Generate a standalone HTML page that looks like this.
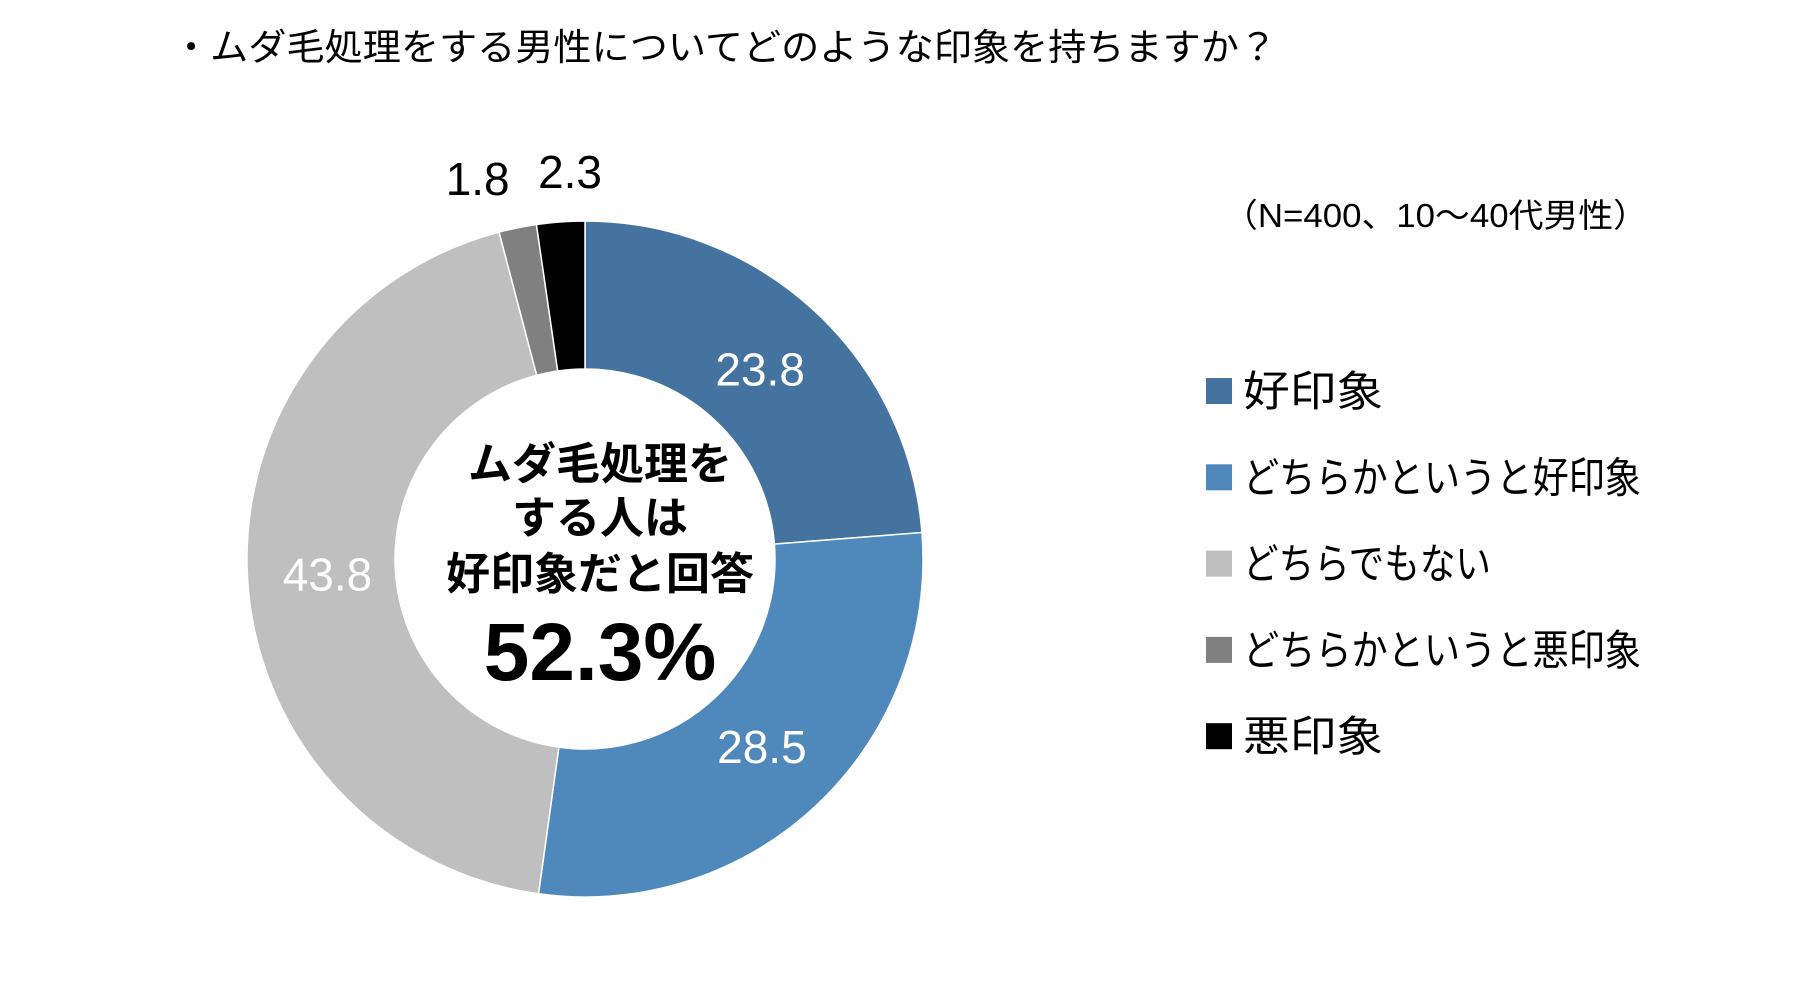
<!DOCTYPE html>
<html><head><meta charset="utf-8"><style>
body{margin:0;background:#fff;}
svg text{font-family:"Liberation Sans","Noto Sans CJK JP",sans-serif;}
</style></head><body>
<svg width="1805" height="1000" viewBox="0 0 1805 1000">
<text x="172" y="60" font-size="37" textLength="1105" lengthAdjust="spacingAndGlyphs" fill="#000">・ムダ毛処理をする男性についてどのような印象を持ちますか？</text>
<text x="1223" y="227" font-size="33" textLength="425" lengthAdjust="spacingAndGlyphs" fill="#000">（N=400、10～40代男性）</text>
<g id="slices"></g>
<g id="labels"></g>
<g font-weight="bold" text-anchor="middle" fill="#000">
<text x="600" y="479" font-size="44">ムダ毛処理を</text>
<text x="600" y="533" font-size="44">する人は</text>
<text x="600" y="589" font-size="44">好印象だと回答</text>
<text x="600" y="680" font-size="82">52.3%</text>
</g>
<g id="legend"></g>
</svg>
<script>
const categories=["好印象","どちらかというと好印象","どちらでもない","どちらかというと悪印象","悪印象"];
const values=[23.8,28.5,43.8,1.8,2.3];
const valueLabels=["23.8","28.5","43.8","1.8","2.3"];
const colors=["#44739f","#4f88bb","#bfbfbf","#808080","#000000"];
const legendWidths=[140,398,248,398,140];
const cx=585,cy=559,R=338,r=190;
const NS="http://www.w3.org/2000/svg";
const total=values.reduce((a,b)=>a+b,0);
const ang=v=>v/total*2*Math.PI;
const pt=(a,rad)=>[cx+rad*Math.sin(a),cy-rad*Math.cos(a)];
const sg=document.getElementById('slices'),lg=document.getElementById('labels'),leg=document.getElementById('legend');
let acc=0;
values.forEach((v,i)=>{
  const a0=ang(acc),a1=ang(acc+v);acc+=v;
  const large=(a1-a0)>Math.PI?1:0;
  const [x0,y0]=pt(a0,R),[x1,y1]=pt(a1,R),[x2,y2]=pt(a1,r),[x3,y3]=pt(a0,r);
  const p=document.createElementNS(NS,'path');
  p.setAttribute('d',`M${x0},${y0}A${R},${R} 0 ${large} 1 ${x1},${y1}L${x2},${y2}A${r},${r} 0 ${large} 0 ${x3},${y3}Z`);
  p.setAttribute('fill',colors[i]);
  p.setAttribute('stroke','#fff');p.setAttribute('stroke-width','1.5');
  
  
  sg.appendChild(p);
  const t=document.createElementNS(NS,'text');
  const mid=(a0+a1)/2;
  let lx,ly;
  if(v<5){const [px,py]=pt(mid,R+50);lx=px+(i===3?-30:13);ly=py+16;t.setAttribute('fill','#000');}
  else{const [px,py]=pt(mid,258);lx=px;ly=py+16;t.setAttribute('fill','#fff');}
  t.setAttribute('x',lx);t.setAttribute('y',ly);
  t.setAttribute('font-size','46');t.setAttribute('text-anchor','middle');
  t.textContent=valueLabels[i];
  
  
  lg.appendChild(t);
  const g=document.createElementNS(NS,'g');
  
  
  const y=391+i*86.3;
  const s=document.createElementNS(NS,'rect');
  s.setAttribute('x',1206);s.setAttribute('y',y-13);s.setAttribute('width',26);s.setAttribute('height',26);s.setAttribute('fill',colors[i]);
  g.appendChild(s);
  const lt=document.createElementNS(NS,'text');
  lt.setAttribute('x',1243);lt.setAttribute('y',y+15);lt.setAttribute('font-size','42');lt.setAttribute('fill','#000');
  lt.setAttribute('textLength',legendWidths[i]);lt.setAttribute('lengthAdjust','spacingAndGlyphs');
  lt.textContent=categories[i];
  g.appendChild(lt);
  leg.appendChild(g);
});
</script>
</body></html>
